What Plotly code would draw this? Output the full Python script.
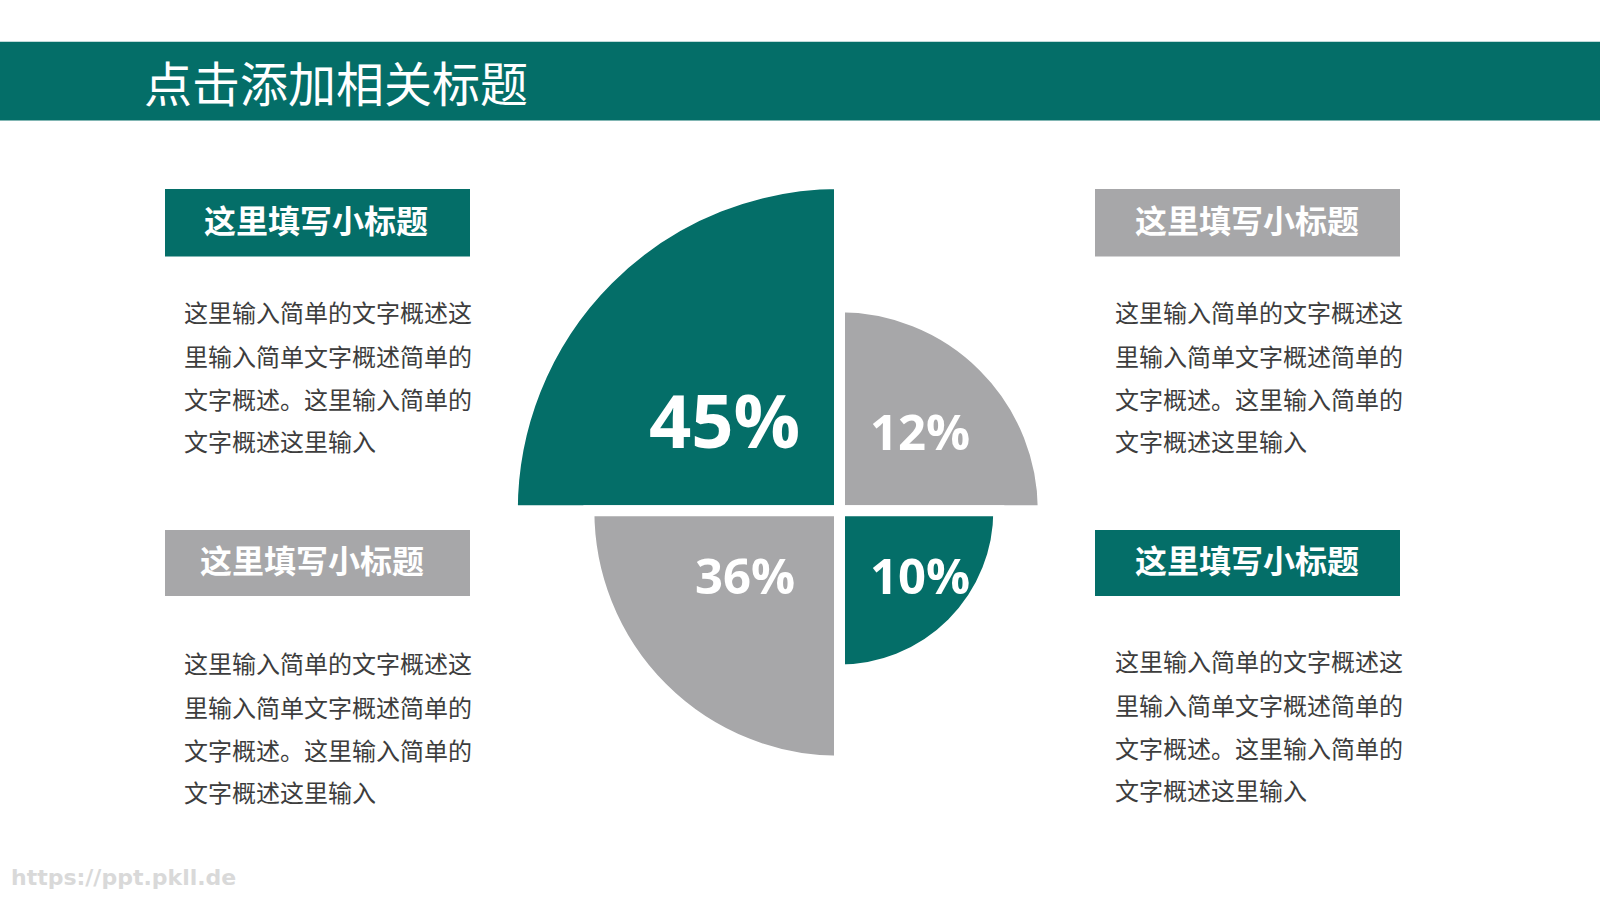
import plotly.graph_objects as go

# ---------------- data ----------------
pct_labels = ["45%", "12%", "36%", "10%"]
pct_values = [45, 12, 36, 10]
sector_radius = [100, 62.3, 76.6, 48.7]          # relative sector length (largest = 100)
sector_theta = [135, 45, 225, 315]               # quadrant centres (deg)
sector_color_keys = ["teal", "gray", "gray", "teal"]

title_text = "点击添加相关标题"
subtitle_text = "这里填写小标题"
body_lines = ["这里输入简单的文字概述这",
              "里输入简单文字概述简单的",
              "文字概述。这里输入简单的",
              "文字概述这里输入"]
watermark = "https://ppt.pkll.de"

# ---------------- style ----------------
W, H = 1600, 900
TEAL = "#046e68"
GRAY = "#a7a7a9"
TEXT = "#3d3d3d"
COLORS = {"teal": TEAL, "gray": GRAY}
CJK = "Noto Sans CJK SC"
LAT = "Open Sans"


def px(x):
    return x / W


def py(y):
    return 1 - y / H


cx, cy, R = 839.5, 510.7, 340.0
r_px_max = 327.2
rmax = 100 * R / r_px_max

fig = go.Figure()
fig.add_trace(go.Barpolar(
    r=sector_radius,
    theta=sector_theta,
    width=[90] * len(sector_radius),
    marker=dict(color=[COLORS[k] for k in sector_color_keys],
                line=dict(color="white", width=11)),
    customdata=pct_values,
    hovertemplate="%{customdata}%<extra></extra>",
))

shapes = []
annotations = []

# header band
shapes.append(dict(type="rect", xref="paper", yref="paper", x0=0, x1=1,
                   y0=py(120.4), y1=py(41.8), fillcolor=TEAL, line=dict(width=0),
                   layer="below"))
annotations.append(dict(text=title_text, x=px(142), y=py(81.5), xref="paper", yref="paper",
                        xanchor="left", yanchor="middle", showarrow=False,
                        font=dict(family=CJK, size=48, color="white")))

# subtitle boxes and body text
panels = [
    # (box x0, box x1, box y0, box y1, color, title cx, body x, body y list)
    (165, 470, 189, 256.5, TEAL, 316, 181.5, [311.3, 355.1, 398.0, 440.9]),
    (165, 470, 530, 596, GRAY, 312, 181.5, [662.3, 706.2, 749.0, 791.9]),
    (1095, 1400, 189, 256.5, GRAY, 1247, 1113, [311.3, 355.1, 398.0, 440.9]),
    (1095, 1400, 530, 596, TEAL, 1247, 1113, [660.3, 704.1, 747.0, 789.9]),
]
for x0, x1, y0, y1, col, tcx, bx, bys in panels:
    shapes.append(dict(type="rect", xref="paper", yref="paper", x0=px(x0), x1=px(x1),
                       y0=py(y1), y1=py(y0), fillcolor=col, line=dict(width=0)))
    annotations.append(dict(text="<b>" + subtitle_text + "</b>", x=px(tcx), y=py((y0 + y1) / 2 - 4),
                            xref="paper", yref="paper", xanchor="center", yanchor="middle",
                            showarrow=False, font=dict(family=CJK, size=32, color="white")))
    for line, by in zip(body_lines, bys):
        annotations.append(dict(text=line, x=px(bx), y=py(by), xref="paper", yref="paper",
                                xanchor="left", yanchor="middle", showarrow=False,
                                font=dict(family=CJK, size=24, color=TEXT)))

# percent labels
label_pos = [(724, 419.5, 74), (919.5, 431, 49), (745, 574.5, 49), (919.5, 574.5, 49)]
for lab, (lx, ly, fs) in zip(pct_labels, label_pos):
    annotations.append(dict(text="<b>" + lab + "</b>", x=px(lx), y=py(ly), xref="paper", yref="paper",
                            xanchor="center", yanchor="middle", showarrow=False,
                            font=dict(family=LAT, size=fs, color="white")))

# watermark
annotations.append(dict(text="<b>" + watermark + "</b>", x=px(9), y=py(877), xref="paper", yref="paper",
                        xanchor="left", yanchor="middle", showarrow=False,
                        font=dict(family="DejaVu Sans", size=22, color="#d9d9d9")))

fig.update_layout(
    width=W, height=H,
    margin=dict(l=0, r=0, t=0, b=0),
    paper_bgcolor="white",
    plot_bgcolor="white",
    showlegend=False,
    shapes=shapes,
    annotations=annotations,
    polar=dict(
        domain=dict(x=[px(cx - R), px(cx + R)], y=[py(cy + R), py(cy - R)]),
        bgcolor="rgba(0,0,0,0)",
        bargap=0,
        hole=0,
        radialaxis=dict(range=[0, rmax], visible=False, showgrid=False, showline=False,
                        showticklabels=False, ticks=""),
        angularaxis=dict(visible=False, showgrid=False, showline=False, showticklabels=False,
                         ticks="", rotation=0, direction="counterclockwise"),
    ),
)

fig.write_html("out.html",
               config={"displayModeBar": False},
               post_script="document.body.style.margin='0';document.body.style.overflow='hidden';")
